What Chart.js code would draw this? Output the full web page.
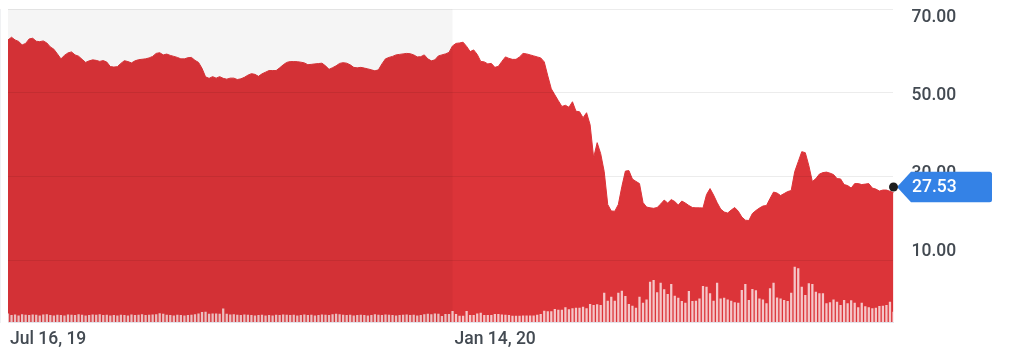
<!DOCTYPE html>
<html><head><meta charset="utf-8">
<script src="https://cdn.jsdelivr.net/npm/chart.js@4.4.1/dist/chart.umd.min.js"></script>
<style>html,body{margin:0;padding:0;background:#fff;overflow:hidden}#wrap{width:1024px;height:352px;position:relative}</style>
</head><body><div id="wrap"><canvas id="c" width="1024" height="352"></canvas></div>
<script>
// ---- data ----
const startDate = '2019-07-16';
const numDays = 252;
const holidays = ['2019-09-02','2019-11-28','2019-12-25','2020-01-01','2020-01-20','2020-02-17','2020-04-10','2020-05-25','2020-07-03'];

const closes = [
62.62,63.26,62.62,62.26,61.43,61.79,62.86,63.02,62.31,62.21,
62.38,61.90,60.95,60.40,59.29,58.10,58.93,59.52,59.76,59.05,
58.74,57.98,57.26,57.62,57.86,57.74,57.50,57.69,57.33,56.26,
56.14,56.24,57.02,57.67,57.45,57.14,57.62,57.90,58.00,58.10,
58.33,58.69,59.40,59.57,59.05,59.24,58.93,58.69,58.45,58.10,
58.10,58.38,58.45,57.74,57.26,55.83,53.81,53.45,53.86,53.50,
53.86,53.45,53.26,53.50,53.50,53.17,53.33,53.69,54.21,54.57,
54.40,53.93,54.52,54.93,55.31,55.31,55.31,55.95,56.67,57.26,
57.45,57.45,57.43,57.31,57.14,56.71,56.79,56.90,56.98,57.07,
56.43,55.60,56.00,56.43,57.02,57.19,57.07,56.67,56.07,55.95,
56.07,55.90,55.71,55.48,55.24,55.48,56.90,58.10,58.45,58.69,
59.05,59.17,59.29,59.40,59.33,59.05,58.57,58.62,59.05,58.10,
57.62,57.86,58.81,59.05,59.29,59.64,61.19,61.79,61.90,62.07,
61.07,59.83,60.24,59.17,57.50,57.38,56.90,57.02,56.07,56.31,
57.50,58.57,58.21,57.98,57.98,58.57,59.40,59.29,59.05,58.81,
58.57,58.33,57.38,54.05,50.95,49.52,48.10,46.74,47.02,46.55,
47.86,45.60,45.48,44.05,45.24,42.38,34.52,38.10,35.48,31.19,
23.33,21.79,21.74,23.33,27.62,31.31,31.43,29.40,28.86,28.33,
23.81,22.74,22.55,22.43,22.62,23.45,24.40,23.69,24.52,24.05,
23.21,24.17,23.69,23.10,22.62,22.55,22.55,22.50,25.71,27.14,
25.60,23.81,22.26,21.55,21.31,22.02,22.62,21.74,20.36,19.60,
19.52,21.19,21.90,22.50,22.98,23.10,24.76,26.31,26.07,25.48,
25.95,26.43,26.67,31.19,33.57,35.95,35.71,32.62,28.81,29.52,
30.60,30.95,31.07,30.83,30.48,29.52,29.45,28.10,27.86,27.26,
28.33,28.33,28.10,28.21,28.33,27.26,27.02,26.55,26.79,26.79,
26.50,26.19
];

// volume, millions of shares
const volumes = [
2.6,2.1,2.3,2.0,2.4,2.2,2.1,2.3,2.2,2.0,
2.3,2.4,2.1,2.0,2.2,2.1,2.0,2.3,2.2,2.1,
2.4,2.2,2.0,2.1,2.3,2.2,2.4,2.1,2.2,2.0,
2.1,2.0,2.2,2.1,2.0,2.3,2.1,2.2,2.4,2.1,
2.2,2.3,2.4,2.7,2.5,2.2,2.1,2.0,2.2,2.1,
2.0,2.1,2.2,2.4,2.6,3.1,3.2,2.5,2.6,2.6,
2.5,4.2,2.5,2.3,2.4,2.2,2.1,2.3,2.2,2.1,
2.0,2.1,2.2,2.0,2.1,2.0,2.2,2.1,2.3,2.2,
2.1,2.2,2.0,2.1,2.3,2.1,2.2,2.0,2.1,2.3,
2.2,2.1,2.4,2.5,2.4,2.2,2.1,2.2,2.0,2.1,
2.2,2.1,2.0,2.1,2.4,2.2,2.1,2.3,2.2,2.1,
2.0,2.1,2.2,2.3,2.1,2.2,2.0,2.1,2.4,2.5,
2.4,2.6,2.5,
1.82,2.46,2.46,3.42,2.46,1.92,1.92,
3.42,2.14,2.14,2.65,2.88,2.14,2.14,2.14,2.46,2.46,
2.33,2.24,2.14,1.92,1.92,1.92,1.95,
2.01,2.01,2.01,
2.24,2.46,3.51,3.29,3.29,4.06,3.83,3.83,4.57,3.93,
4.25,4.47,4.47,4.79,4.25,5.65,5.34,5.53,5.34,9.27,
6.71,7.99,6.71,9.27,9.90,8.21,5.65,5.11,4.47,7.99,
6.07,7.12,12.78,13.32,9.36,12.46,10.32,8.85,12.04,8.31,
7.67,6.61,6.07,9.81,6.61,6.71,7.44,11.41,11.18,9.04,
6.71,12.46,7.44,7.67,7.12,6.71,6.17,6.07,10.13,12.04,
6.93,10.45,10.00,7.44,7.12,5.85,10.64,12.46,7.76,7.44,
6.93,6.61,9.27,17.57,17.03,11.18,8.53,12.24,12.04,9.58,
9.04,9.04,5.85,6.17,7.12,6.39,5.34,6.93,5.85,6.81,
6.07,4.57,6.07,4.89,4.57,4.25,4.47,5.02,5.11,5.34,
6.39,3.20
];

const yTickValues = [70, 50, 30, 10];
const xTickLabels = ['Jul 16, 19', 'Jan 14, 20'];
const lastPrice = 27.53;
const shadeUntil = 'Jan 14, 20';

// ---- categories: trading days ----
const MONTHS = ['Jan','Feb','Mar','Apr','May','Jun','Jul','Aug','Sep','Oct','Nov','Dec'];
function tradingDays(start, n, hol) {
  const out = [];
  const d = new Date(start + 'T00:00:00Z');
  while (out.length < n) {
    const iso = d.toISOString().slice(0, 10);
    const wd = d.getUTCDay();
    if (wd !== 0 && wd !== 6 && !hol.includes(iso)) {
      out.push(MONTHS[d.getUTCMonth()] + ' ' + d.getUTCDate() + ', ' + String(d.getUTCFullYear()).slice(2));
    }
    d.setUTCDate(d.getUTCDate() + 1);
  }
  return out;
}
const labels = tradingDays(startDate, numDays, holidays);
const dotData = closes.map((_, i) => i === closes.length - 1 ? lastPrice : null);

// ---- style ----
const RED = '#dc3439';
const FONT = 'Roboto, "Liberation Sans", Arial, sans-serif';
const TXT = '#434a52';
const TICKFONT = { family: FONT, size: 17.5, weight: '500' };

const deco = {
  id: 'deco',
  beforeDatasetsDraw(chart) {
    const {ctx, chartArea: a, scales} = chart;
    const y = scales.price.getPixelForValue(lastPrice);
    const tip = a.right + 3.5, notch = a.right + 17.5, r = a.right + 98.5, h = 15.3, rr = 2.5;
    ctx.save();
    ctx.fillStyle = '#3482e6';
    ctx.beginPath();
    ctx.moveTo(tip, y);
    ctx.lineTo(notch, y - h);
    ctx.lineTo(r - rr, y - h);
    ctx.quadraticCurveTo(r, y - h, r, y - h + rr);
    ctx.lineTo(r, y + h - rr);
    ctx.quadraticCurveTo(r, y + h, r - rr, y + h);
    ctx.lineTo(notch, y + h);
    ctx.closePath();
    ctx.fill();
    ctx.fillStyle = '#ffffff';
    ctx.font = '500 17.5px ' + FONT;
    ctx.textBaseline = 'middle';
    ctx.textAlign = 'left';
    ctx.fillText(lastPrice.toFixed(2), a.right + 18.5, y + 0.5);
    ctx.restore();
  },
  afterDatasetsDraw(chart) {
    const {ctx, chartArea: a, scales} = chart;
    const xb = scales.x.getPixelForValue(labels.indexOf(shadeUntil));
    ctx.save();
    ctx.fillStyle = 'rgba(0,0,0,0.04)';
    ctx.fillRect(a.left, a.top, xb - a.left, a.bottom - a.top);
    ctx.restore();
  }
};

const noPad = s => { s.paddingTop = 0; s.paddingBottom = 0; s.paddingLeft = 0; s.paddingRight = 0; };

new Chart(document.getElementById('c'), {
  type: 'line',
  data: {
    labels: labels,
    datasets: [
      {
        type: 'line', data: dotData, yAxisID: 'price', order: 0,
        pointRadius: 4.5, pointBackgroundColor: '#1e1e1e', pointBorderWidth: 0,
        showLine: false, clip: false
      },
      {
        type: 'bar', data: volumes, yAxisID: 'vol', order: 1,
        backgroundColor: 'rgba(255,255,255,0.72)', barThickness: 1.6, borderWidth: 0
      },
      {
        type: 'line', data: closes, yAxisID: 'price', order: 2,
        borderColor: RED, borderWidth: 1, backgroundColor: RED, fill: 'start',
        pointRadius: 0, tension: 0
      }
    ]
  },
  options: {
    responsive: false,
    animation: false,
    events: [],
    layout: { padding: { left: 8, top: 9, right: 0, bottom: 0 } },
    plugins: { legend: { display: false }, tooltip: { enabled: false } },
    scales: {
      x: {
        type: 'category', offset: false,
        grid: { display: false, drawTicks: false },
        border: { display: true, color: '#e3e5ec' },
        afterBuildTicks: s => { s.ticks = xTickLabels.map(l => ({ value: labels.indexOf(l) })); },
        ticks: { autoSkip: false, maxRotation: 0, align: 'start', labelOffset: 2, padding: 7,
                 color: TXT, font: TICKFONT },
        afterFit: s => { s.height = 30; noPad(s); }
      },
      price: {
        position: 'right', weight: 0, min: -4.7, max: 70,
        afterBuildTicks: s => { s.ticks = yTickValues.map(v => ({ value: v })); },
        ticks: { display: false },
        grid: { color: 'rgba(0,0,0,0.075)', drawTicks: false, z: 1 },
        border: { display: true, color: '#e2e3e8', z: 0 },
        afterFit: s => { s.width = 0; noPad(s); }
      },
      lab: {
        position: 'right', weight: 1, min: -8.1, max: 72.26,
        afterBuildTicks: s => { s.ticks = yTickValues.map(v => ({ value: v })); },
        ticks: { padding: 18, color: TXT, font: TICKFONT, callback: v => v.toFixed(2) },
        grid: { display: false, drawTicks: false },
        border: { display: false },
        afterFit: s => { s.width = 130.5; noPad(s); }
      },
      vol: { display: false, min: 0, max: 100 }
    }
  },
  plugins: [deco]
});
</script>
</body></html>
